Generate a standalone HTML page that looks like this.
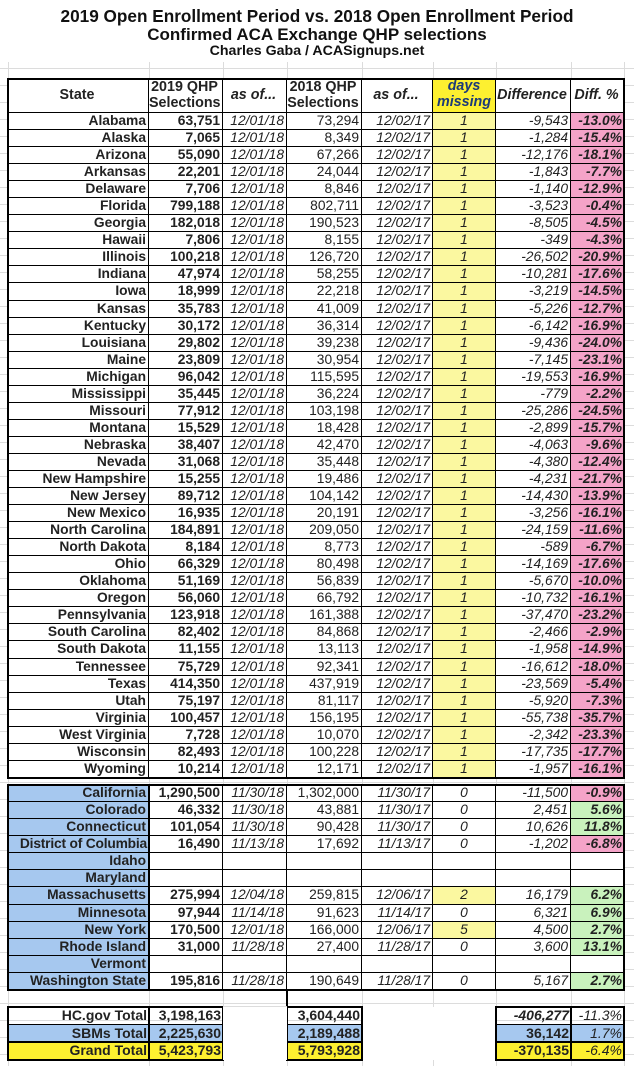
<!DOCTYPE html>
<html><head><meta charset="utf-8"><style>
*{box-sizing:border-box;margin:0;padding:0}
body{width:634px;height:1066px;position:relative;background:#fff;font-family:"Liberation Sans",Arial,sans-serif;color:#222;overflow:hidden}
.bg{position:absolute;left:0;top:0;width:634px;height:1066px;background:repeating-linear-gradient(to bottom,transparent 0,transparent 16px,#dcdcdc 16px,#dcdcdc 17px);background-position:0 1px}
.vl{position:absolute;top:0;height:1066px;width:1px;background:#dcdcdc}
.t{position:absolute;left:0;width:634px;text-align:center;font-weight:bold;color:#111}
.sec{position:absolute;left:8px;width:616px;background:#fff}
.r{display:flex;height:17.05px}
.r>*{display:block;border-right:1px solid #000;border-bottom:1px solid #000;text-align:right;padding-right:2px;font-size:13.8px;line-height:16px;white-space:nowrap;overflow:hidden;font-style:normal;font-weight:normal}
.r>*:nth-child(1){width:141px;font-weight:bold}
.r>*:nth-child(2){width:74px;font-weight:bold}
.r>*:nth-child(3){width:64px;font-style:italic}
.r>*:nth-child(4){width:75px}
.r>*:nth-child(5){width:71px;font-style:italic}
.r>*:nth-child(6){width:63px;font-style:italic;text-align:center;padding:0}
.r>*:nth-child(7){width:75px;font-style:italic}
.r>*:nth-child(8){width:53px;font-weight:bold;font-style:italic;border-right:none}
.y{background:#fbf8a0}
.n{background:#f4a3c8}
.g{background:#c9f2bd}
.b{background:#a6c8ef}
.h{height:34px!important}
.h>*{line-height:15.5px;font-size:14.3px!important;padding-top:1px;text-align:center!important;font-weight:bold!important;font-style:normal}
.box{position:absolute;border:2px solid #000}
.s2 .r{height:17.08px}
.s2 .r>*:nth-child(1){background:#a6c8ef}
.tot{position:absolute;left:8px;width:616px}
.tot .r{height:17.67px}
.tot .r>*{border:none;line-height:17px;font-size:14px}
</style></head><body>
<div class="bg"></div>
<div class="vl" style="left:8px"></div><div class="vl" style="left:149px"></div><div class="vl" style="left:223px"></div><div class="vl" style="left:287px"></div><div class="vl" style="left:362px"></div><div class="vl" style="left:433px"></div><div class="vl" style="left:496px"></div><div class="vl" style="left:571px"></div><div class="vl" style="left:624px"></div>
<div class="t" style="top:0;height:62px;background:#fff"></div>
<div class="t" style="top:7px;font-size:17.2px;line-height:19px">2019 Open Enrollment Period vs. 2018 Open Enrollment Period</div>
<div class="t" style="top:25px;font-size:17px;line-height:19px">Confirmed ACA Exchange QHP selections</div>
<div class="t" style="top:43px;font-size:14.2px;line-height:17px">Charles Gaba / ACASignups.net</div>

<div class="sec" style="top:79px">
<div class="r h"><b style="padding-top:9px">State</b><b>2019 QHP<br>Selections</b><b style="padding-top:9px">as of...</b><b>2018 QHP<br>Selections</b><b style="padding-top:9px;font-style:italic!important">as of...</b><b style="background:#fdf030;color:#1c3a78;font-style:italic!important">days<br>missing</b><b style="padding-top:9px">Difference</b><b style="padding-top:9px">Diff. %</b></div>
<div class="r"><b>Alabama</b><b>63,751</b><i>12/01/18</i><span>73,294</span><i>12/02/17</i><i class="y">1</i><i>-9,543</i><b class="n">-13.0%</b></div>
<div class="r"><b>Alaska</b><b>7,065</b><i>12/01/18</i><span>8,349</span><i>12/02/17</i><i class="y">1</i><i>-1,284</i><b class="n">-15.4%</b></div>
<div class="r"><b>Arizona</b><b>55,090</b><i>12/01/18</i><span>67,266</span><i>12/02/17</i><i class="y">1</i><i>-12,176</i><b class="n">-18.1%</b></div>
<div class="r"><b>Arkansas</b><b>22,201</b><i>12/01/18</i><span>24,044</span><i>12/02/17</i><i class="y">1</i><i>-1,843</i><b class="n">-7.7%</b></div>
<div class="r"><b>Delaware</b><b>7,706</b><i>12/01/18</i><span>8,846</span><i>12/02/17</i><i class="y">1</i><i>-1,140</i><b class="n">-12.9%</b></div>
<div class="r"><b>Florida</b><b>799,188</b><i>12/01/18</i><span>802,711</span><i>12/02/17</i><i class="y">1</i><i>-3,523</i><b class="n">-0.4%</b></div>
<div class="r"><b>Georgia</b><b>182,018</b><i>12/01/18</i><span>190,523</span><i>12/02/17</i><i class="y">1</i><i>-8,505</i><b class="n">-4.5%</b></div>
<div class="r"><b>Hawaii</b><b>7,806</b><i>12/01/18</i><span>8,155</span><i>12/02/17</i><i class="y">1</i><i>-349</i><b class="n">-4.3%</b></div>
<div class="r"><b>Illinois</b><b>100,218</b><i>12/01/18</i><span>126,720</span><i>12/02/17</i><i class="y">1</i><i>-26,502</i><b class="n">-20.9%</b></div>
<div class="r"><b>Indiana</b><b>47,974</b><i>12/01/18</i><span>58,255</span><i>12/02/17</i><i class="y">1</i><i>-10,281</i><b class="n">-17.6%</b></div>
<div class="r"><b>Iowa</b><b>18,999</b><i>12/01/18</i><span>22,218</span><i>12/02/17</i><i class="y">1</i><i>-3,219</i><b class="n">-14.5%</b></div>
<div class="r"><b>Kansas</b><b>35,783</b><i>12/01/18</i><span>41,009</span><i>12/02/17</i><i class="y">1</i><i>-5,226</i><b class="n">-12.7%</b></div>
<div class="r"><b>Kentucky</b><b>30,172</b><i>12/01/18</i><span>36,314</span><i>12/02/17</i><i class="y">1</i><i>-6,142</i><b class="n">-16.9%</b></div>
<div class="r"><b>Louisiana</b><b>29,802</b><i>12/01/18</i><span>39,238</span><i>12/02/17</i><i class="y">1</i><i>-9,436</i><b class="n">-24.0%</b></div>
<div class="r"><b>Maine</b><b>23,809</b><i>12/01/18</i><span>30,954</span><i>12/02/17</i><i class="y">1</i><i>-7,145</i><b class="n">-23.1%</b></div>
<div class="r"><b>Michigan</b><b>96,042</b><i>12/01/18</i><span>115,595</span><i>12/02/17</i><i class="y">1</i><i>-19,553</i><b class="n">-16.9%</b></div>
<div class="r"><b>Mississippi</b><b>35,445</b><i>12/01/18</i><span>36,224</span><i>12/02/17</i><i class="y">1</i><i>-779</i><b class="n">-2.2%</b></div>
<div class="r"><b>Missouri</b><b>77,912</b><i>12/01/18</i><span>103,198</span><i>12/02/17</i><i class="y">1</i><i>-25,286</i><b class="n">-24.5%</b></div>
<div class="r"><b>Montana</b><b>15,529</b><i>12/01/18</i><span>18,428</span><i>12/02/17</i><i class="y">1</i><i>-2,899</i><b class="n">-15.7%</b></div>
<div class="r"><b>Nebraska</b><b>38,407</b><i>12/01/18</i><span>42,470</span><i>12/02/17</i><i class="y">1</i><i>-4,063</i><b class="n">-9.6%</b></div>
<div class="r"><b>Nevada</b><b>31,068</b><i>12/01/18</i><span>35,448</span><i>12/02/17</i><i class="y">1</i><i>-4,380</i><b class="n">-12.4%</b></div>
<div class="r"><b>New Hampshire</b><b>15,255</b><i>12/01/18</i><span>19,486</span><i>12/02/17</i><i class="y">1</i><i>-4,231</i><b class="n">-21.7%</b></div>
<div class="r"><b>New Jersey</b><b>89,712</b><i>12/01/18</i><span>104,142</span><i>12/02/17</i><i class="y">1</i><i>-14,430</i><b class="n">-13.9%</b></div>
<div class="r"><b>New Mexico</b><b>16,935</b><i>12/01/18</i><span>20,191</span><i>12/02/17</i><i class="y">1</i><i>-3,256</i><b class="n">-16.1%</b></div>
<div class="r"><b>North Carolina</b><b>184,891</b><i>12/01/18</i><span>209,050</span><i>12/02/17</i><i class="y">1</i><i>-24,159</i><b class="n">-11.6%</b></div>
<div class="r"><b>North Dakota</b><b>8,184</b><i>12/01/18</i><span>8,773</span><i>12/02/17</i><i class="y">1</i><i>-589</i><b class="n">-6.7%</b></div>
<div class="r"><b>Ohio</b><b>66,329</b><i>12/01/18</i><span>80,498</span><i>12/02/17</i><i class="y">1</i><i>-14,169</i><b class="n">-17.6%</b></div>
<div class="r"><b>Oklahoma</b><b>51,169</b><i>12/01/18</i><span>56,839</span><i>12/02/17</i><i class="y">1</i><i>-5,670</i><b class="n">-10.0%</b></div>
<div class="r"><b>Oregon</b><b>56,060</b><i>12/01/18</i><span>66,792</span><i>12/02/17</i><i class="y">1</i><i>-10,732</i><b class="n">-16.1%</b></div>
<div class="r"><b>Pennsylvania</b><b>123,918</b><i>12/01/18</i><span>161,388</span><i>12/02/17</i><i class="y">1</i><i>-37,470</i><b class="n">-23.2%</b></div>
<div class="r"><b>South Carolina</b><b>82,402</b><i>12/01/18</i><span>84,868</span><i>12/02/17</i><i class="y">1</i><i>-2,466</i><b class="n">-2.9%</b></div>
<div class="r"><b>South Dakota</b><b>11,155</b><i>12/01/18</i><span>13,113</span><i>12/02/17</i><i class="y">1</i><i>-1,958</i><b class="n">-14.9%</b></div>
<div class="r"><b>Tennessee</b><b>75,729</b><i>12/01/18</i><span>92,341</span><i>12/02/17</i><i class="y">1</i><i>-16,612</i><b class="n">-18.0%</b></div>
<div class="r"><b>Texas</b><b>414,350</b><i>12/01/18</i><span>437,919</span><i>12/02/17</i><i class="y">1</i><i>-23,569</i><b class="n">-5.4%</b></div>
<div class="r"><b>Utah</b><b>75,197</b><i>12/01/18</i><span>81,117</span><i>12/02/17</i><i class="y">1</i><i>-5,920</i><b class="n">-7.3%</b></div>
<div class="r"><b>Virginia</b><b>100,457</b><i>12/01/18</i><span>156,195</span><i>12/02/17</i><i class="y">1</i><i>-55,738</i><b class="n">-35.7%</b></div>
<div class="r"><b>West Virginia</b><b>7,728</b><i>12/01/18</i><span>10,070</span><i>12/02/17</i><i class="y">1</i><i>-2,342</i><b class="n">-23.3%</b></div>
<div class="r"><b>Wisconsin</b><b>82,493</b><i>12/01/18</i><span>100,228</span><i>12/02/17</i><i class="y">1</i><i>-17,735</i><b class="n">-17.7%</b></div>
<div class="r"><b>Wyoming</b><b>10,214</b><i>12/01/18</i><span>12,171</span><i>12/02/17</i><i class="y">1</i><i>-1,957</i><b class="n">-16.1%</b></div>
</div>
<div class="box" style="left:7px;top:78px;width:618px;height:701px"></div>

<div class="sec s2" style="top:785px">
<div class="r"><b>California</b><b>1,290,500</b><i>11/30/18</i><span>1,302,000</span><i>11/30/17</i><i>0</i><i>-11,500</i><b class="n">-0.9%</b></div>
<div class="r"><b>Colorado</b><b>46,332</b><i>11/30/18</i><span>43,881</span><i>11/30/17</i><i>0</i><i>2,451</i><b class="g">5.6%</b></div>
<div class="r"><b>Connecticut</b><b>101,054</b><i>11/30/18</i><span>90,428</span><i>11/30/17</i><i>0</i><i>10,626</i><b class="g">11.8%</b></div>
<div class="r"><b style="padding-right:1px;letter-spacing:-0.2px">District of Columbia</b><b>16,490</b><i>11/13/18</i><span>17,692</span><i>11/13/17</i><i>0</i><i>-1,202</i><b class="n">-6.8%</b></div>
<div class="r"><b>Idaho</b><b></b><i></i><span></span><i></i><i></i><i></i><b></b></div>
<div class="r"><b>Maryland</b><b></b><i></i><span></span><i></i><i></i><i></i><b></b></div>
<div class="r"><b>Massachusetts</b><b>275,994</b><i>12/04/18</i><span>259,815</span><i>12/06/17</i><i class="y">2</i><i>16,179</i><b class="g">6.2%</b></div>
<div class="r"><b>Minnesota</b><b>97,944</b><i>11/14/18</i><span>91,623</span><i>11/14/17</i><i>0</i><i>6,321</i><b class="g">6.9%</b></div>
<div class="r"><b>New York</b><b>170,500</b><i>12/01/18</i><span>166,000</span><i>12/06/17</i><i class="y">5</i><i>4,500</i><b class="g">2.7%</b></div>
<div class="r"><b>Rhode Island</b><b>31,000</b><i>11/28/18</i><span>27,400</span><i>11/28/17</i><i>0</i><i>3,600</i><b class="g">13.1%</b></div>
<div class="r"><b>Vermont</b><b></b><i></i><span></span><i></i><i></i><i></i><b></b></div>
<div class="r"><b>Washington State</b><b>195,816</b><i>11/28/18</i><span>190,649</span><i>11/28/17</i><i>0</i><i>5,167</i><b class="g">2.7%</b></div>
</div>
<div class="box" style="left:7px;top:784px;width:618px;height:207px"></div>
<div style="position:absolute;left:148px;top:785px;width:2px;height:205px;background:#000"></div>
<div style="position:absolute;left:286px;top:990px;width:2px;height:17px;background:#000"></div>

<div class="tot" style="top:1007px">
<div class="r"><b>HC.gov Total</b><b>3,198,163</b><i></i><b style="font-weight:bold">3,604,440</b><i></i><i></i><b style="font-weight:bold;font-style:italic">-406,277</b><b style="font-weight:normal">-11.3%</b></div>
<div class="r"><b class="b">SBMs Total</b><b class="b">2,225,630</b><i></i><b class="b" style="font-weight:bold">2,189,488</b><i></i><i></i><b class="b" style="font-weight:bold;font-style:normal">36,142</b><b class="b" style="font-weight:normal">1.7%</b></div>
<div class="r"><b style="background:#fdf030">Grand Total</b><b style="background:#fdf030">5,423,793</b><i></i><b style="background:#fdf030;font-weight:bold">5,793,928</b><i></i><i></i><b style="background:#fdf030;font-weight:bold;font-style:normal">-370,135</b><b style="background:#fdf030;font-weight:normal">-6.4%</b></div>
</div>
<div class="box" style="left:7px;top:1006px;width:143px;height:55px"></div>
<div class="box" style="left:148px;top:1006px;width:76px;height:55px"></div>
<div class="box" style="left:286px;top:1006px;width:77px;height:55px"></div>
<div class="box" style="left:495px;top:1006px;width:77px;height:55px"></div>
<div class="box" style="left:570px;top:1006px;width:55px;height:55px"></div>
<div style="position:absolute;left:7px;top:1024px;width:618px;height:1px;background:#000"></div>
<div style="position:absolute;left:7px;top:1041px;width:618px;height:2px;background:#000"></div>
<div style="position:absolute;left:223px;top:1007px;width:64px;height:53px;background:#fff"></div>
<div style="position:absolute;left:363px;top:1007px;width:132px;height:53px;background:#fff"></div>
<div style="position:absolute;left:223px;top:1006px;width:64px;height:1px;background:#dcdcdc"></div>
</body></html>
